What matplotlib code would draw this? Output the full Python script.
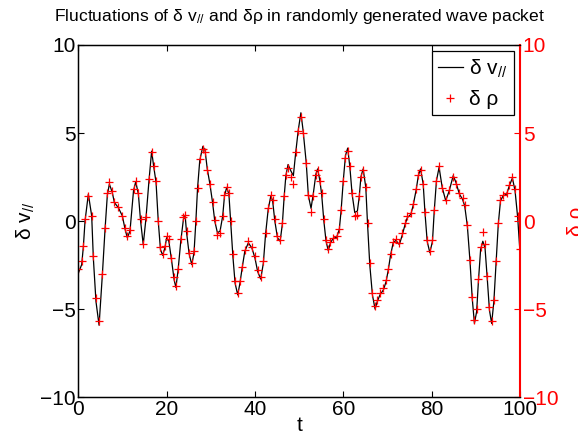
import matplotlib
matplotlib.use("Agg")
import matplotlib.pyplot as plt
import numpy as np

plt.rcParams['font.family'] = ['Liberation Sans', 'DejaVu Sans']
plt.rcParams['mathtext.fontset'] = 'custom'
plt.rcParams['mathtext.rm'] = 'Liberation Sans'
plt.rcParams['mathtext.it'] = 'Liberation Sans:italic'
plt.rcParams['mathtext.default'] = 'regular'

# values
t = [0, 0.76, 1.14, 1.52, 2.27, 3.03, 3.4, 4.0, 4.7, 5.44, 6.05, 6.57, 7.03, 7.7, 8.16,
     9.06, 9.97, 10.6, 11.1, 11.7, 12.5, 13.0, 13.6, 14.1, 14.7, 15.3, 16.0, 16.6, 17.1,
     17.6, 18.1, 18.6, 19.1, 19.6, 20.0, 20.5, 21.1, 21.7, 22.1, 22.6, 23.2, 23.8, 24.2,
     24.5, 25.1, 25.7, 26.2, 26.6, 27.0, 27.5, 28.2, 28.7, 29.2, 29.8, 30.4, 30.9, 31.5,
     32.1, 32.7, 33.1, 33.6, 34.1, 34.5, 35.0, 35.5, 36.1, 36.6, 37.1, 37.7, 38.5, 39.3,
     40.0, 40.6, 41.3, 41.9, 42.4, 43.0, 43.6, 44.0, 44.5, 45.1, 45.7, 46.2, 46.6, 47.0,
     47.5, 48.1, 48.7, 49.2, 49.8, 50.4, 50.9, 51.6, 52.1, 52.7, 53.2, 53.8, 54.2, 54.7,
     55.1, 55.6, 56.1, 56.6, 57.1, 57.7, 58.5, 59.1, 59.5, 60.0, 60.5, 61.0, 61.5, 62.0,
     62.6, 63.2, 63.6, 64.0, 64.5, 65.1, 65.5, 66.0, 66.6, 67.2, 67.7, 68.3, 69.1, 69.7,
     70.2, 70.7, 71.3, 71.9, 72.7, 73.4, 74.0, 74.5, 75.3, 75.8, 76.5, 77.0, 77.5, 78.1,
     78.5, 79.0, 79.6, 80.2, 80.6, 81.1, 81.7, 82.4, 83.2, 84.0, 84.9, 85.5, 86.3, 87.0,
     87.5, 88.1, 88.7, 89.2, 89.7, 90.2, 90.6, 91.1, 91.6, 92.1, 92.6, 93.1, 93.6, 94.1,
     94.6, 95.1, 95.6, 96.2, 97.0, 97.6, 98.3, 98.9, 99.5, 100]
dv = [-2.96, -2.48, -1.47, 0.0, 1.53, 0.29, -2.1, -4.58, -5.92, -3.07, -0.48, 1.47, 2.1,
      1.62, 1.05, 0.76, 0.29, -0.48, -0.95, -0.57, 1.72, 2.23, 1.53, 0.0, -1.34, 0.1, 2.29,
      3.97, 3.05, 2.2, 0.0, -1.62, -1.95, -1.53, -0.95, -1.15, -2.2, -3.34, -3.78, -2.77,
      -1.15, 0.1, 0.29, -0.63, -1.87, -2.48, -1.8, -0.1, 1.86, 3.44, 4.24, 4.01, 2.96, 2.1,
      1.05, 0.0, -0.67, -0.57, 0.29, 1.43, 1.91, 1.53, 0.0, -2.0, -3.53, -4.2, -3.53, -2.67,
      -1.72, -1.24, -1.53, -2.1, -2.86, -3.3, -2.4, -0.76, 0.67, 1.43, 1.15, 0.0, -0.95,
      -1.15, -0.19, 1.34, 2.58, 3.21, 2.86, 2.58, 3.82, 5.15, 6.15, 5.15, 3.34, 1.43, 0.72,
      1.53, 2.67, 2.96, 2.29, 1.53, 0.0, -1.15, -1.68, -1.24, -0.99, -0.92, -0.48, 0.57,
      2.29, 3.72, 4.14, 3.05, 1.53, 0.48, 0.57, 1.34, 2.52, 2.96, 1.91, -0.19, -2.48, -4.2,
      -5.0, -4.58, -4.2, -3.91, -3.44, -2.77, -1.95, -1.24, -1.1, -1.34, -0.76, -0.19, 0.19,
      0.38, 0.86, 1.76, 2.58, 2.96, 2.1, 0.48, -1.15, -1.8, -1.15, 0.57, 2.29, 3.05, 1.91,
      1.15, 1.72, 2.58, 2.2, 1.53, 1.24, 0.86, -0.29, -2.29, -4.39, -5.82, -5.15, -3.44,
      -1.62, -1.15, -1.53, -3.25, -5.06, -5.82, -4.58, -2.39, -0.19, 1.15, 1.43, 1.53, 2.0,
      2.44, 1.72, 0.19, -1.72]
drho = [-2.7, -2.3, -1.4, 0.1, 1.4, 0.3, -2.0, -4.4, -5.7, -3.0, -0.4, 1.6, 2.2,
        1.7, 1.1, 0.8, 0.3, -0.4, -0.85, -0.5, 1.8, 2.3, 1.6, 0.1, -1.3, 0.2, 2.4,
        3.9, 3.1, 2.3, 0.0, -1.5, -1.85, -1.4, -0.85, -1.05, -2.1, -3.2, -3.7, -2.7,
        -1.05, 0.2, 0.35, -0.55, -1.8, -2.4, -1.7, 0.0, 1.9, 3.5, 4.1, 3.9, 2.9, 2.1,
        1.1, 0.05, -0.8, -0.7, 0.3, 1.45, 1.95, 1.6, 0.0, -1.9, -3.4, -4.1, -3.4, -2.6,
        -1.65, -1.15, -1.45, -2.0, -2.8, -3.2, -2.3, -0.7, 0.75, 1.5, 1.2, 0.1, -0.85,
        -1.1, -0.1, 1.4, 2.6, 3.0, 2.5, 2.1, 3.9, 5.1, 5.9, 5.0, 3.3, 1.5, 0.5,
        1.4, 2.6, 2.9, 2.3, 1.6, 0.1, -1.1, -1.6, -1.2, -0.95, -0.85, -0.45, 0.65,
        2.3, 3.6, 4.0, 3.1, 1.6, 0.3, 0.35, 1.4, 2.5, 2.9, 1.95, -0.1, -2.4, -4.1,
        -4.85, -4.5, -4.1, -3.8, -3.35, -2.7, -1.9, -1.2, -1.0, -1.25, -0.7, -0.1, 0.3,
        0.45, 0.95, 1.8, 2.6, 2.9, 2.1, 0.5, -1.1, -1.7, -1.1, 0.6, 2.3, 3.1, 1.9,
        1.2, 1.75, 2.5, 2.1, 1.6, 1.3, 0.9, -0.2, -2.2, -4.3, -5.6, -5.0, -3.3,
        -1.5, -0.6, -1.3, -3.1, -4.9, -5.7, -4.5, -2.3, -0.1, 1.2, 1.5, 1.6, 2.05,
        2.5, 1.8, 0.3, -1.6]

fig = plt.figure(figsize=(5.78, 4.36), dpi=100)
ax = fig.add_axes([0.1355, 0.0894, 0.764, 0.8074])
ax2 = ax.twinx()

ln, = ax.plot(t, dv, 'k-', lw=0.9, label=r'δ v$_{//}$')
mk, = ax2.plot(t, drho, 'r+', ms=6, mew=0.9, label='δ ρ')

ax.set_xlim(0, 100)
ax.set_ylim(-10, 10)
ax2.set_ylim(-10, 10)
ax.set_xticks([0, 20, 40, 60, 80, 100])
ax.set_yticks([-10, -5, 0, 5, 10])
ax2.set_yticks([-10, -5, 0, 5, 10])

ax.tick_params(direction='in', labelsize=15, top=True, length=4, pad=2)
ax2.tick_params(direction='in', labelsize=15, colors='red', length=4, pad=2)
ax.spines['right'].set_visible(False)
ax2.spines['right'].set_color('red')
ax2.spines['right'].set_linewidth(1.5)
for s in ['left', 'bottom', 'top']:
    ax.spines[s].set_linewidth(1.0)

ax.set_xlabel('t', fontsize=15, labelpad=-2)
ax.set_ylabel(r'δ v$_{//}$', fontsize=15, labelpad=2)
ax2.set_ylabel('δ ρ', fontsize=15, color='red', labelpad=6)
ax.set_title(r'Fluctuations of δ v$_{//}$ and δρ in randomly generated wave packet',
             fontsize=12.6, pad=17)

leg = ax2.legend([ln, mk], [r'δ v$_{//}$', 'δ ρ'], loc='upper right', fontsize=15,
                 fancybox=False, edgecolor='black', framealpha=1, handlelength=1.2,
                 handletextpad=0.3, borderpad=0.3, labelspacing=0.5,
                 borderaxespad=0.3)
leg.get_frame().set_linewidth(0.9)

plt.savefig("out.png", dpi=100)
